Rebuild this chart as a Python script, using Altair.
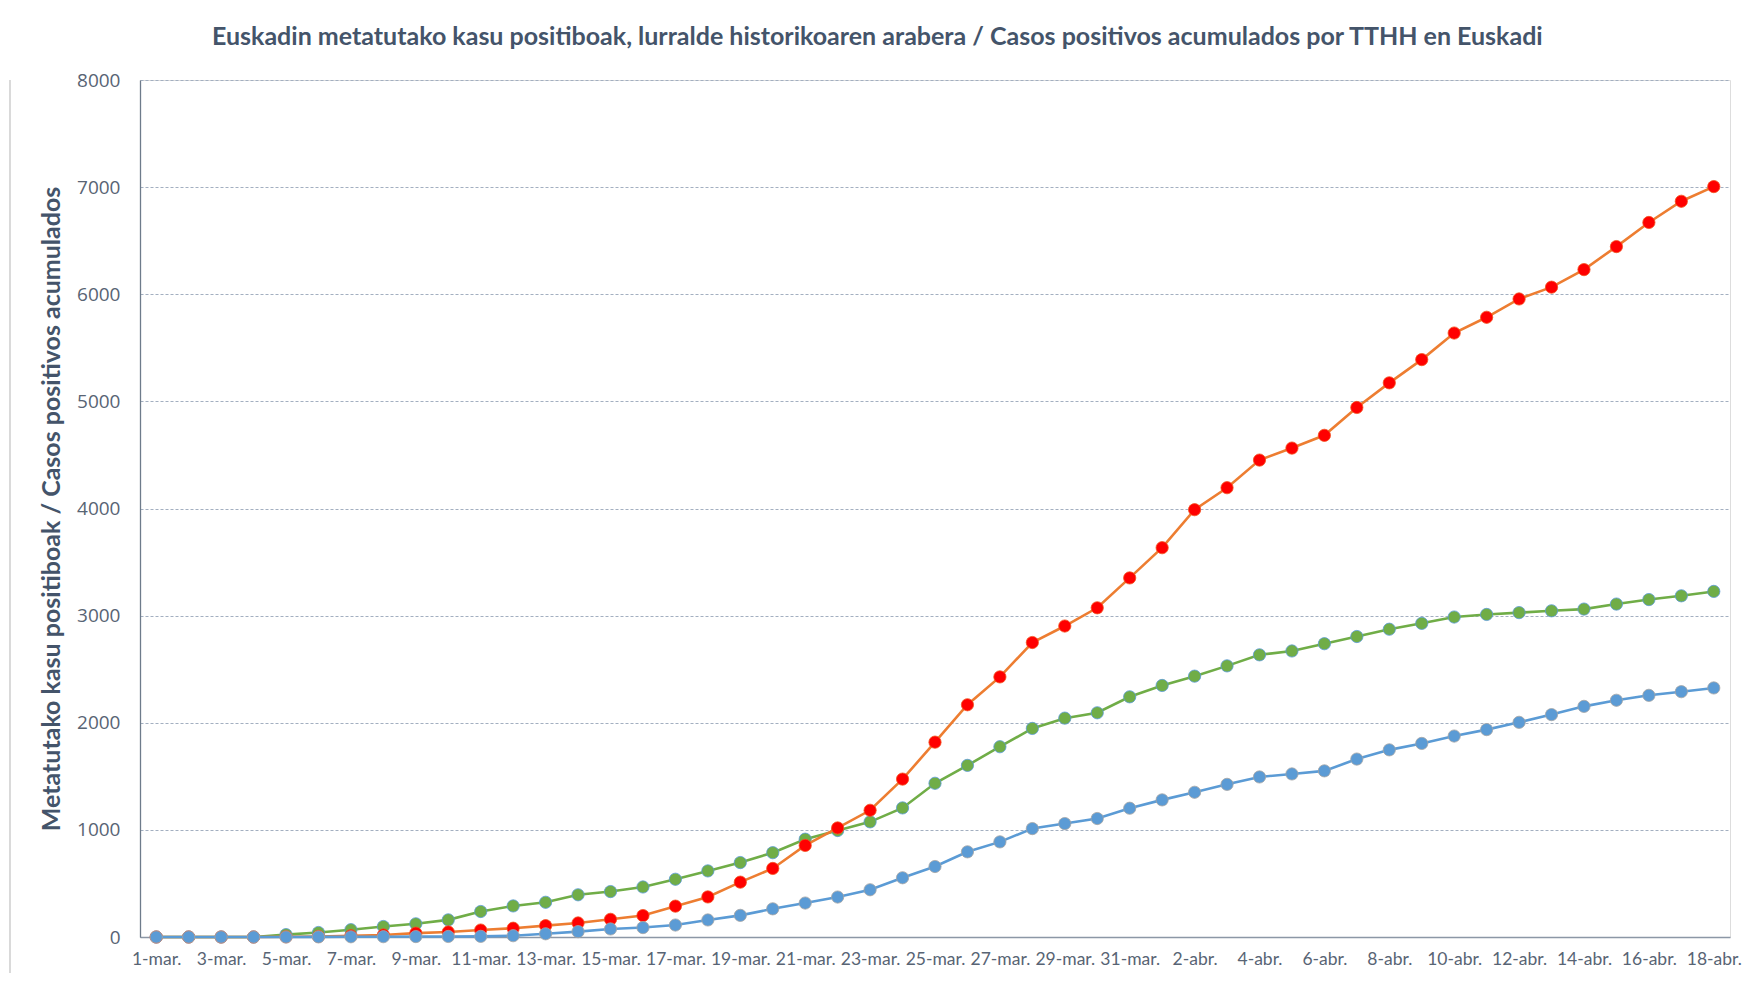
import altair as alt
import pandas as pd

fechas = ["1-mar.", "2-mar.", "3-mar.", "4-mar.", "5-mar.", "6-mar.", "7-mar.", "8-mar.", "9-mar.", "10-mar.",
          "11-mar.", "12-mar.", "13-mar.", "14-mar.", "15-mar.", "16-mar.", "17-mar.", "18-mar.", "19-mar.", "20-mar.",
          "21-mar.", "22-mar.", "23-mar.", "24-mar.", "25-mar.", "26-mar.", "27-mar.", "28-mar.", "29-mar.", "30-mar.",
          "31-mar.", "1-abr.", "2-abr.", "3-abr.", "4-abr.", "5-abr.", "6-abr.", "7-abr.", "8-abr.", "9-abr.",
          "10-abr.", "11-abr.", "12-abr.", "13-abr.", "14-abr.", "15-abr.", "16-abr.", "17-abr.", "18-abr."]

araba = [0, 0, 0, 0, 0, 1, 2, 3, 4, 5, 6, 12, 30, 50, 75, 88, 112, 159, 202, 263,
         317, 373, 441, 553, 658, 795, 888, 1012, 1059, 1106, 1202, 1280, 1351, 1425, 1494, 1522, 1551, 1661, 1747, 1807,
         1876, 1936, 2004, 2076, 2153, 2210, 2256, 2290, 2325]

bizkaia = [0, 0, 0, 0, 2, 5, 12, 19, 36, 47, 65, 82, 106, 131, 165, 200, 288, 374, 512, 640,
           855, 1018, 1183, 1474, 1819, 2168, 2428, 2749, 2903, 3073, 3352, 3634, 3989, 4194, 4452, 4564, 4683, 4943, 5173, 5390,
           5638, 5785, 5956, 6066, 6230, 6445, 6670, 6868, 7005]

gipuzkoa = [0, 0, 0, 0, 22, 42, 68, 98, 123, 160, 238, 290, 324, 394, 424, 467, 539, 617, 695, 787,
            913, 994, 1075, 1205, 1435, 1602, 1776, 1947, 2043, 2093, 2242, 2348, 2435, 2531, 2634, 2670, 2738, 2805, 2873, 2928,
            2987, 3011, 3028, 3045, 3061, 3108, 3150, 3185, 3226]

series = ["Gipuzkoa", "Bizkaia", "Araba"]
valores = {"Araba": araba, "Bizkaia": bizkaia, "Gipuzkoa": gipuzkoa}
line_colors = {"Gipuzkoa": "#70AD47", "Bizkaia": "#ED7D31", "Araba": "#5B9BD5"}
dot_fill = {"Gipuzkoa": "#70AD47", "Bizkaia": "#FF0000", "Araba": "#5B9BD5"}
dot_stroke = {"Gipuzkoa": "#5B9BD5", "Bizkaia": "#F4511E", "Araba": "#A5A5A5"}

rows = []
for s in series:
    for f, v in zip(fechas, valores[s]):
        rows.append({"fecha": f, "serie": s, "valor": v})
df = pd.DataFrame(rows)

W, H = 1590, 857
FONT = "Lato"
TXT = "#44546A"
LBL = "#586474"

x_enc = alt.X("fecha:O", sort=fechas,
              scale=alt.Scale(type="point", padding=0.5),
              axis=alt.Axis(values=fechas[::2], labelAngle=0, ticks=False, grid=False,
                            domainColor="#8C97A6", domainWidth=1.3,
                            labelFont=FONT, labelFontSize=17.5, labelColor=LBL,
                            labelPadding=13, title=None))
y_enc = alt.Y("valor:Q", scale=alt.Scale(domain=[0, 8000], nice=False),
              axis=alt.Axis(values=list(range(0, 8001, 1000)), format="d", ticks=False,
                            grid=True, gridColor="#A3AFC0", gridDash=[3, 2], gridWidth=1,
                            domainColor="#6E7B8B", domainWidth=1.3,
                            labelFont="Open Sans", labelFontSize=19, labelColor=LBL, labelPadding=20,
                            title="Metatutako kasu positiboak / Casos positivos acumulados",
                            titleFont=FONT, titleFontSize=25, titleFontWeight="bold", titleColor=TXT,
                            titleAngle=-90, titleX=-89, titleY=H / 2,
                            titleAlign="center", titleBaseline="middle"))

layers = []
for s in series:
    sub = alt.Chart(df).transform_filter(alt.datum.serie == s)
    layers.append(sub.mark_line(color=line_colors[s], strokeWidth=2.6).encode(x=x_enc, y=y_enc))
    layers.append(sub.mark_point(filled=True, fill=dot_fill[s], stroke=dot_stroke[s],
                                 strokeWidth=0.8, size=150, opacity=1).encode(x=x_enc, y=y_enc))

border = alt.Chart(df).mark_rule(color="#D9D9D9", strokeWidth=1).encode(
    x=alt.value(-130), y=alt.value(0), y2=alt.value(H + 40))

chart = alt.layer(border, *layers).properties(
    width=W, height=H,
    title=alt.TitleParams(
        "Euskadin metatutako kasu positiboak, lurralde historikoaren arabera  / Casos positivos acumulados por TTHH  en Euskadi",
        font=FONT, fontSize=25, fontWeight="bold", color=TXT, anchor="start", frame="group",
        dx=72, offset=21),
    padding={"left": 132, "top": 72, "right": 13, "bottom": 36},
    autosize=alt.AutoSizeParams(type="none"),
).configure_view(stroke=None).configure(background="white")

chart.save("out.html", embed_options={"renderer": "svg", "actions": False})
